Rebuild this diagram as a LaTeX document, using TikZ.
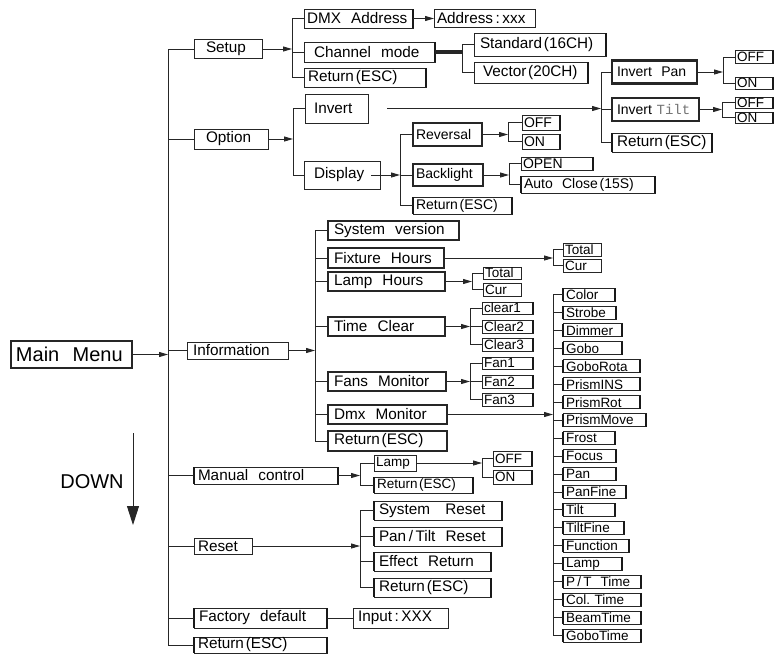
\documentclass[tikz,border=0pt]{standalone}
\usepackage{fontspec}
\setmainfont{Liberation Sans}
\setmonofont{Liberation Mono}
\usetikzlibrary{arrows.meta}
\newcommand\lp{\hspace{0.12em}(}
\newcommand\rp{)\hspace{0.12em}}
\newcommand\fA{\fontsize{15.3}{16}\selectfont}
\newcommand\fB{\fontsize{14}{15}\selectfont}
\newcommand\fC{\fontsize{13.5}{14}\selectfont}
\newcommand\fM{\fontsize{20}{21}\selectfont}
\newcommand\bx[8]{%
  \pgfmathsetmacro\bxw{#3-#2}%
  \node[bxs,#7,text width=\bxw pt,minimum height=#5pt] (#1) at (#2,#4) {\mbox{\hspace*{#6pt}#8}};}
\newcommand\brk[3]{\draw (#2.west) -- (#2.west -| #1) -- (#3.west -| #1) -- (#3.west);}
\begin{document}
\begin{tikzpicture}[x=1pt,y=-1pt,line width=0.9pt,draw=black!85,
  bxs/.style={draw=black!85,line width=0.9pt,anchor=west,inner xsep=0pt,inner ysep=0pt,
    outer sep=0pt,align=left,font=\fA},
  fb/.style={font=\fB},
  fc/.style={font=\fC},
  fm/.style={font=\fM,line width=1.2pt},
  md/.style={line width=1.3pt},
  bt/.style={line width=2.2pt},
  rb/.style={append after command={(\tikzlastnode.north east) edge[line width=2.4pt,draw=black!90] (\tikzlastnode.south east)}},
  lrb/.style={append after command={(\tikzlastnode.north east) edge[line width=2.4pt,draw=black!90] (\tikzlastnode.south east)
     (\tikzlastnode.north west) edge[line width=2.4pt,draw=black!90] (\tikzlastnode.south west)}},
  arr/.style={-{Triangle[length=9pt,width=5pt]}}]
\useasboundingbox (0,0) rectangle (776,654);

% main
\bx{MM}{11}{132}{354.5}{27}{5}{fm}{Main~~Menu}
\bx{Setup}{194}{262}{49}{19}{12}{}{Setup}
\bx{Option}{194}{268}{139}{20}{12}{}{Option}
\bx{Info}{187}{288}{350.5}{17}{6}{}{Information}
\bx{Manual}{194}{338}{475.5}{17}{4}{lrb}{Manual~~control}
\bx{Reset}{194}{252}{546}{16}{4}{}{Reset}
\bx{Factory}{194}{327}{618}{20}{5}{lrb}{Factory~~default}
\bx{RetA}{194}{327}{645}{16}{4}{lrb}{Return\lp ESC\rp}

% setup
\bx{DMX}{304}{413}{18.5}{19}{3}{rb}{DMX~~Address}
\bx{Addr}{434}{535}{18.5}{18}{3}{}{Address\,:\,xxx}
\bx{Chan}{304}{435}{52}{20}{10}{rb}{Channel~~mode}
\bx{Std}{474}{606}{44.5}{23}{6}{rb}{Standard\lp 16CH\rp}
\bx{Vec}{474}{588}{72.5}{21}{9}{rb}{Vector\lp 20CH\rp}
\bx{SRet}{304}{426}{77.5}{19}{4}{rb}{Return\lp ESC\rp}

% option
\bx{Invert}{305}{368}{108.5}{29}{9}{}{Invert}
\bx{Display}{304}{380}{175}{28}{10}{}{Display}
\bx{IPan}{612}{697}{72}{23}{5}{bt,fb}{Invert~~Pan}
\bx{ITilt}{612}{699}{109.5}{23}{5}{bt,fb}{Invert~\textcolor{black!55}{\texttt{Tilt}}}
\bx{IRet}{612}{712}{142.5}{19}{5}{lrb}{Return\lp ESC\rp}
\bx{PanOff}{735}{773}{57}{13}{2}{rb,fc}{OFF}
\bx{PanOn}{735}{773}{83}{12}{2}{rb,fc}{ON}
\bx{TiltOff}{735}{773}{102.5}{11}{2}{rb,fc}{OFF}
\bx{TiltOn}{735}{773}{117.5}{11}{2}{rb,fc}{ON}
\bx{Rev}{413}{482}{134.5}{23}{3}{bt,fb}{Reversal}
\bx{Back}{413}{483}{175}{22}{3}{bt,fb}{Backlight}
\bx{DRet}{413}{512}{205.5}{17}{3}{lrb,fb}{Return\lp ESC\rp}
\bx{RevOff}{522}{560}{122.5}{15}{2}{rb,fb}{OFF}
\bx{RevOn}{522}{560}{141.5}{15}{2}{rb,fb}{ON}
\bx{Open}{521}{593}{163.5}{13}{2}{rb,fb}{OPEN}
\bx{Auto}{521}{655}{184.5}{17}{3}{lrb,fb}{Auto~~Close\lp 15S\rp}

% information
\bx{SysV}{328}{459}{230.5}{19}{6}{md}{System~~version}
\bx{FixH}{328}{444}{258}{20}{6}{md}{Fixture~~Hours}
\bx{LampH}{328}{445}{281.5}{19}{6}{md}{Lamp~~Hours}
\bx{TimeC}{328}{445}{326.5}{19}{6}{md}{Time~~Clear}
\bx{FansM}{328}{446}{381.5}{19}{6}{md}{Fans~~Monitor}
\bx{DmxM}{328}{447}{414.5}{19}{6}{md}{Dmx~~Monitor}
\bx{IRetB}{328}{447}{441}{20}{6}{md}{Return\lp ESC\rp}
\bx{FixT}{563}{601}{249.5}{13}{2}{fc}{Total}
\bx{FixC}{563}{601}{265.5}{13}{2}{fc}{Cur}
\bx{LmpT}{483}{521}{273}{12}{2}{fc}{Total}
\bx{LmpC}{483}{521}{289.5}{13}{2}{fc}{Cur}
\bx{Clr1}{482}{533}{308}{12}{2}{rb,fc}{clear1}
\bx{Clr2}{482}{533}{326.5}{13}{2}{rb,fc}{Clear2}
\bx{Clr3}{482}{533}{344.5}{13}{2}{rb,fc}{Clear3}
\bx{Fan1}{482}{533}{363}{12}{2}{rb,fc}{Fan1}
\bx{Fan2}{482}{533}{381.5}{13}{2}{rb,fc}{Fan2}
\bx{Fan3}{482}{533}{399.5}{13}{2}{rb,fc}{Fan3}
\foreach \t/\r [count=\i from 0] in {Color/615,Strobe/616,Dimmer/622,Gobo/622,GoboRota/640,PrismINS/640,PrismRot/640,PrismMove/646,Frost/615,Focus/616,Pan/616,PanFine/626,Tilt/615,TiltFine/624,Function/629,Lamp/622,P\,\slash\,T~~Time/641,Col.~Time/641,BeamTime/641,GoboTime/641}{
  \pgfmathsetmacro\yc{294.5+17.95*\i}
  \bx{ch\i}{563}{\r}{\yc}{13}{3}{lrb,fc}{\t}
}

% manual / reset / factory
\bx{MLamp}{374}{416}{463}{16}{2}{fc}{Lamp}
\bx{MRet}{374}{473}{485}{16}{3}{lrb,fc}{Return\lp ESC\rp}
\bx{MOff}{493}{532}{458.5}{15}{2}{rb,fc}{OFF}
\bx{MOn}{493}{532}{477}{14}{2}{rb,fc}{ON}
\bx{SysR}{374}{502}{510.5}{19}{5}{lrb}{System~~~Reset}
\bx{PTR}{374}{502}{536.5}{19}{5}{lrb}{Pan\,/\,Tilt~~Reset}
\bx{EffR}{374}{491}{561.5}{19}{5}{lrb}{Effect~~Return}
\bx{RRet}{374}{491}{587.5}{19}{5}{lrb}{Return\lp ESC\rp}
\bx{Inp}{353}{448}{618}{20}{5}{}{Input\,:\,XXX}

% DOWN
\node[font=\fM,inner sep=0pt] (down) at (92,482) {DOWN};
\coordinate (dtop) at (133,433);
\coordinate (dbot) at (133,525);
\draw[-{Triangle[length=19pt,width=12pt]}] (dtop) -- (dbot);

% connectors
\coordinate (sA) at (168,0);
\draw (Setup.west -| sA) -- (RetA.west -| sA);
\foreach \n in {Setup,Option,Info,Manual,Reset,Factory,RetA} \draw (\n.west) -- (\n.west -| sA);
\draw[arr] (MM.east) -- (MM.east -| sA);

\coordinate (sB) at (292,0);
\draw[arr] (Setup.east) -- (Setup.east -| sB);
\brk{sB}{DMX}{SRet}
\draw (Chan.west) -- (Chan.west -| sB);
\draw[arr] (DMX.east) -- (Addr.west);
\coordinate (sC) at (462,0);
\draw[line width=4.5pt] (Chan.east) -- (Chan.east -| sC);
\brk{sC}{Std}{Vec}

\coordinate (sD) at (293,0);
\draw[arr] (Option.east) -- (Option.east -| sD);
\brk{sD}{Invert}{Display}
\coordinate (sE) at (601,0);
\draw[arr] ([xshift=19pt]Invert.east) -- (Invert.east -| sE);
\brk{sE}{IPan}{IRet}
\draw (ITilt.west) -- (ITilt.west -| sE);
\coordinate (sF) at (723,0);
\draw[arr] (IPan.east) -- (IPan.east -| sF);
\brk{sF}{PanOff}{PanOn}
\coordinate (sG) at (722,0);
\draw[arr] (ITilt.east) -- (ITilt.east -| sG);
\brk{sG}{TiltOff}{TiltOn}
\coordinate (sH) at (400,0);
\draw[arr] ([xshift=-9pt]Display.east) -- (Display.east -| sH);
\brk{sH}{Rev}{DRet}
\draw (Back.west) -- (Back.west -| sH);
\coordinate (sI) at (508,0);
\draw[arr] (Rev.east) -- (Rev.east -| sI);
\brk{sI}{RevOff}{RevOn}
\coordinate (sJ) at (509,0);
\draw[arr] (Back.east) -- (Back.east -| sJ);
\brk{sJ}{Open}{Auto}

\coordinate (sK) at (315,0);
\draw[arr] (Info.east) -- (Info.east -| sK);
\brk{sK}{SysV}{IRetB}
\foreach \n in {FixH,LampH,TimeC,FansM,DmxM} \draw (\n.west) -- (\n.west -| sK);
\coordinate (sL) at (553,0);
\draw[arr] (FixH.east) -- (FixH.east -| sL);
\brk{sL}{FixT}{FixC}
\coordinate (sM) at (472,0);
\draw[arr] (LampH.east) -- (LampH.east -| sM);
\brk{sM}{LmpT}{LmpC}
\coordinate (sN) at (470,0);
\draw[arr] (TimeC.east) -- (TimeC.east -| sN);
\brk{sN}{Clr1}{Clr3}
\draw (Clr2.west) -- (Clr2.west -| sN);
\draw[arr] (FansM.east) -- (FansM.east -| sN);
\brk{sN}{Fan1}{Fan3}
\draw (Fan2.west) -- (Fan2.west -| sN);
\coordinate (sO) at (553,0);
\draw[arr] (DmxM.east) -- (DmxM.east -| sO);
\brk{sO}{ch0}{ch19}
\foreach \i in {1,...,18} \draw (ch\i.west) -- (ch\i.west -| sO);

\coordinate (sP) at (360,0);
\draw[arr] (Manual.east) -- (Manual.east -| sP);
\brk{sP}{MLamp}{MRet}
\coordinate (sQ) at (482,0);
\draw[arr] (MLamp.east) -- (MLamp.east -| sQ);
\brk{sQ}{MOff}{MOn}
\draw[arr] (Reset.east) -- (Reset.east -| sP);
\brk{sP}{SysR}{RRet}
\draw (PTR.west) -- (PTR.west -| sP);
\draw (EffR.west) -- (EffR.west -| sP);
\draw (Factory.east) -- (Inp.west);
\end{tikzpicture}
\end{document}
